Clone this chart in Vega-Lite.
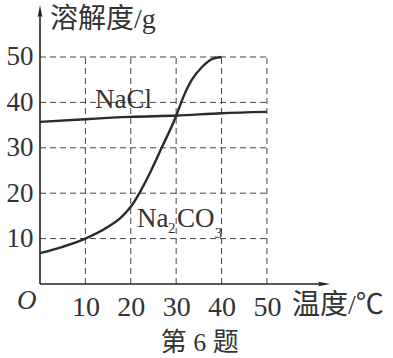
{
  "$schema": "https://vega.github.io/schema/vega-lite/v6.json",
  "width": 290,
  "height": 279,
  "autosize": "none",
  "padding": {"left": 40, "top": 5, "right": 63, "bottom": 74},
  "background": "white",
  "config": {
    "view": {"stroke": null},
    "axis": {"title": null, "domain": false, "ticks": false, "grid": false, "labelFont": "Liberation Serif", "labelColor": "#333"}
  },
  "datasets": {
    "vgrid": [{"t": 10}, {"t": 20}, {"t": 30}, {"t": 40}, {"t": 50}],
    "hgrid": [{"s": 10}, {"s": 20}, {"s": 30}, {"s": 40}, {"s": 50}],
    "curves": [
      {"series": "NaCl", "t": 0, "s": 35.7},
      {"series": "NaCl", "t": 10, "s": 36.3},
      {"series": "NaCl", "t": 20, "s": 36.8},
      {"series": "NaCl", "t": 30, "s": 37.1},
      {"series": "NaCl", "t": 40, "s": 37.6},
      {"series": "NaCl", "t": 50, "s": 37.9},
      {"series": "Na2CO3", "t": 0, "s": 6.8},
      {"series": "Na2CO3", "t": 5, "s": 8.2},
      {"series": "Na2CO3", "t": 10, "s": 10.0},
      {"series": "Na2CO3", "t": 15, "s": 12.6},
      {"series": "Na2CO3", "t": 18, "s": 14.8},
      {"series": "Na2CO3", "t": 20, "s": 17.0},
      {"series": "Na2CO3", "t": 22, "s": 20.2},
      {"series": "Na2CO3", "t": 24, "s": 24.0},
      {"series": "Na2CO3", "t": 26.8, "s": 30.0},
      {"series": "Na2CO3", "t": 30, "s": 37.0},
      {"series": "Na2CO3", "t": 31.5, "s": 41.0},
      {"series": "Na2CO3", "t": 33.4, "s": 44.9},
      {"series": "Na2CO3", "t": 35.7, "s": 47.8},
      {"series": "Na2CO3", "t": 38, "s": 49.6},
      {"series": "Na2CO3", "t": 40, "s": 50.0}
    ],
    "labels": [
      {"kind": "title", "text": "溶解度/g", "t": 2.2, "s": 58.1},
      {"kind": "title", "text": "温度/℃", "t": 55.5, "s": -4.85},
      {"kind": "caption", "text": "第 6 题", "t": 35.2, "s": -13},
      {"kind": "origin", "text": "O", "t": -2.9, "s": -3.7},
      {"kind": "chem", "text": "NaCl", "t": 12.1, "s": 38.8},
      {"kind": "chem", "text": "Na", "t": 21.4, "s": 12.55},
      {"kind": "chem", "text": "CO", "t": 30.2, "s": 12.55},
      {"kind": "sub", "text": "2", "t": 28.2, "s": 11.2},
      {"kind": "sub", "text": "3", "t": 38.5, "s": 10.1}
    ]
  },
  "layer": [
    {
      "data": {"name": "vgrid"},
      "mark": {"type": "rule", "color": "#444", "strokeWidth": 1, "strokeDash": [6, 4]},
      "encoding": {
        "x": {"field": "t", "type": "quantitative",
              "scale": {"domain": [0, 63.9], "nice": false, "zero": false},
              "axis": {"values": [10, 20, 30, 40, 50], "labelFontSize": 28, "labelPadding": 9}},
        "y": {"datum": 0, "type": "quantitative",
              "scale": {"domain": [0, 61.45], "nice": false, "zero": false},
              "axis": {"values": [10, 20, 30, 40, 50], "labelFontSize": 27, "labelPadding": 7}},
        "y2": {"datum": 50}
      }
    },
    {
      "data": {"name": "hgrid"},
      "mark": {"type": "rule", "color": "#444", "strokeWidth": 1, "strokeDash": [6, 4]},
      "encoding": {
        "y": {"field": "s", "type": "quantitative"},
        "x": {"datum": 0, "type": "quantitative"},
        "x2": {"datum": 50}
      }
    },
    {
      "data": {"values": [{}]},
      "mark": {"type": "rule", "color": "#222", "strokeWidth": 1.6},
      "encoding": {
        "x": {"datum": 0, "type": "quantitative"},
        "y": {"datum": 0, "type": "quantitative"},
        "y2": {"datum": 60}
      }
    },
    {
      "data": {"values": [{}]},
      "mark": {"type": "rule", "color": "#222", "strokeWidth": 1.6},
      "encoding": {
        "x": {"datum": 0, "type": "quantitative"},
        "x2": {"datum": 62.5},
        "y": {"datum": 0, "type": "quantitative"}
      }
    },
    {
      "data": {"values": [{}]},
      "mark": {"type": "point", "shape": "M0,-1L0.38,1L0,0.7L-0.38,1Z", "size": 150, "filled": true, "color": "#222", "opacity": 1},
      "encoding": {
        "x": {"datum": 0, "type": "quantitative"},
        "y": {"datum": 60.1, "type": "quantitative"}
      }
    },
    {
      "data": {"values": [{}]},
      "mark": {"type": "point", "shape": "M1,0L-1,-0.38L-0.7,0L-1,0.38Z", "size": 150, "filled": true, "color": "#222", "opacity": 1},
      "encoding": {
        "x": {"datum": 62.6, "type": "quantitative"},
        "y": {"datum": 0, "type": "quantitative"}
      }
    },
    {
      "data": {"name": "curves"},
      "mark": {"type": "line", "color": "#2a2a2a", "strokeWidth": 2.4, "interpolate": "monotone"},
      "encoding": {
        "x": {"field": "t", "type": "quantitative"},
        "y": {"field": "s", "type": "quantitative"},
        "detail": {"field": "series"}
      }
    },
    {
      "data": {"name": "labels"},
      "transform": [{"filter": "datum.kind === 'title'"}],
      "mark": {"type": "text", "align": "left", "baseline": "middle", "font": "Liberation Serif, Noto Sans CJK SC", "fontSize": 28, "color": "#333"},
      "encoding": {
        "x": {"field": "t", "type": "quantitative"},
        "y": {"field": "s", "type": "quantitative"},
        "text": {"field": "text"}
      }
    },
    {
      "data": {"name": "labels"},
      "transform": [{"filter": "datum.kind === 'caption'"}],
      "mark": {"type": "text", "align": "center", "baseline": "middle", "font": "Liberation Serif, Noto Sans CJK SC", "fontSize": 26, "color": "#333"},
      "encoding": {
        "x": {"field": "t", "type": "quantitative"},
        "y": {"field": "s", "type": "quantitative"},
        "text": {"field": "text"}
      }
    },
    {
      "data": {"name": "labels"},
      "transform": [{"filter": "datum.kind === 'origin'"}],
      "mark": {"type": "text", "align": "center", "baseline": "middle", "font": "Liberation Serif", "fontStyle": "italic", "fontSize": 27, "color": "#333"},
      "encoding": {
        "x": {"field": "t", "type": "quantitative"},
        "y": {"field": "s", "type": "quantitative"},
        "text": {"field": "text"}
      }
    },
    {
      "data": {"name": "labels"},
      "transform": [{"filter": "datum.kind === 'chem'"}],
      "mark": {"type": "text", "align": "left", "baseline": "alphabetic", "font": "Liberation Serif", "fontSize": 27, "color": "#333"},
      "encoding": {
        "x": {"field": "t", "type": "quantitative"},
        "y": {"field": "s", "type": "quantitative"},
        "text": {"field": "text"}
      }
    },
    {
      "data": {"name": "labels"},
      "transform": [{"filter": "datum.kind === 'sub'"}],
      "mark": {"type": "text", "align": "left", "baseline": "alphabetic", "font": "Liberation Serif", "fontSize": 15, "color": "#333"},
      "encoding": {
        "x": {"field": "t", "type": "quantitative"},
        "y": {"field": "s", "type": "quantitative"},
        "text": {"field": "text"}
      }
    }
  ]
}
